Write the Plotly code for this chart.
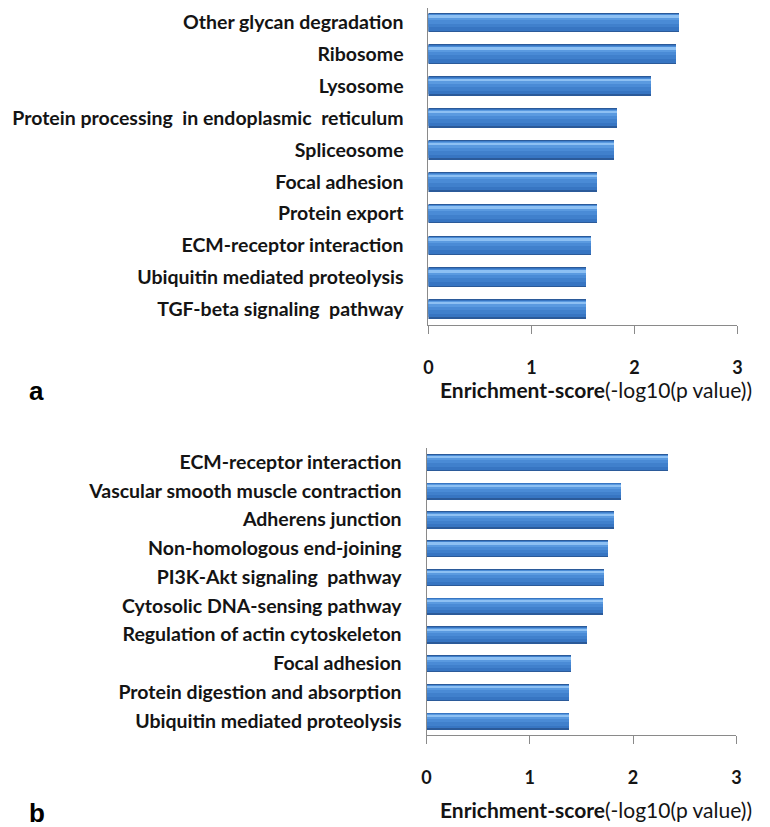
import plotly.graph_objects as go

cats_a = ["Other glycan degradation", "Ribosome", "Lysosome",
          "Protein processing  in endoplasmic  reticulum", "Spliceosome",
          "Focal adhesion", "Protein export", "ECM-receptor interaction",
          "Ubiquitin mediated proteolysis", "TGF-beta signaling  pathway"]
vals_a = [2.44, 2.41, 2.17, 1.84, 1.81, 1.64, 1.64, 1.58, 1.53, 1.53]

cats_b = ["ECM-receptor interaction", "Vascular smooth muscle contraction",
          "Adherens junction", "Non-homologous end-joining",
          "PI3K-Akt signaling  pathway", "Cytosolic DNA-sensing pathway",
          "Regulation of actin cytoskeleton", "Focal adhesion",
          "Protein digestion and absorption", "Ubiquitin mediated proteolysis"]
vals_b = [2.33, 1.88, 1.81, 1.75, 1.71, 1.70, 1.55, 1.39, 1.37, 1.37]

ticks_x = [0, 1, 2, 3]
panel_labels = ["a", "b"]
axis_title = "<b>Enrichment-score</b>(-log10(p value))"

FONT = "Lato"
TXT = "#141414"
GRID = "#8a8a8a"

# nested bands (fraction of bar width, from bottom to top) to fake the 3D shading
bands = [(0.00, 1.00, "#2b5a99"),
         (0.08, 0.95, "#3775c2"),
         (0.25, 0.93, "#4080cc"),
         (0.45, 0.91, "#4a8bd6"),
         (0.62, 0.89, "#5a9ae0"),
         (0.74, 0.86, "#8dc0f3")]

fig = go.Figure()

def add_panel(cats, vals, xa, ya, w):
    cr = cats[::-1]
    vr = vals[::-1]
    for lo, hi, col in bands:
        fig.add_trace(go.Bar(
            y=cr, x=vr, orientation="h",
            width=w * (hi - lo), offset=-w / 2 + w * lo,
            marker=dict(color=col, line=dict(width=0)),
            xaxis=xa, yaxis=ya, hoverinfo="skip", showlegend=False))

add_panel(cats_a, vals_a, "x", "y", 0.62)
add_panel(cats_b, vals_b, "x2", "y2", 0.60)

OFF = 8  # page body margin
W, H = 770 - OFF, 827 - OFF

def px(v):
    return (v - OFF) / W

def py(v):
    return min(1.0, max(0.0, 1 - (v - OFF) / H))

def xax(x0, x1):
    return dict(domain=[px(x0), px(x1)], range=[0, 3], tickvals=ticks_x,
                showline=True, linecolor=GRID, linewidth=1,
                ticks="outside", ticklen=8, tickcolor=GRID, tickwidth=1,
                showgrid=False, zeroline=False, fixedrange=True,
                tickfont=dict(family=FONT, size=18, color=TXT, weight="bold"),
                ticklabelstandoff=18)

def yax(top, bot, cats, anchor, n):
    # keep the band spacing of the reference even if the top is clipped
    band = (bot - top) / n
    top_c = max(top, OFF)
    hi = (n - 0.5) - (top_c - top) / band
    return dict(domain=[py(bot), py(top_c)], type="category",
                categoryorder="array", categoryarray=cats[::-1],
                range=[-0.5, hi],
                showline=True, linecolor=GRID, linewidth=1, ticks="",
                showgrid=False, zeroline=False, fixedrange=True, anchor=anchor,
                tickfont=dict(family=FONT, size=19.5, color=TXT, weight="bold"),
                ticklabelstandoff=20)

fig.update_layout(
    width=W, height=H, margin=dict(l=0, r=0, t=0, b=0),
    paper_bgcolor="white", plot_bgcolor="white",
    barmode="overlay", bargap=0,
    xaxis=dict(xax(429, 742), anchor="y"),
    yaxis=yax(6.6, 325, cats_a, "x", len(cats_a)),
    xaxis2=dict(xax(427, 741), anchor="y2"),
    yaxis2=yax(447.6, 735.2, cats_b, "x2", len(cats_b)),
)

# axis titles
for yc in (389, 809):
    fig.add_annotation(text=axis_title, xref="paper", yref="paper",
                       x=px(599), y=py(yc), xanchor="center", yanchor="middle",
                       showarrow=False, font=dict(family=FONT, size=21, color=TXT))

# panel letters
for lab, yc in zip(panel_labels, (391, 813)):
    fig.add_annotation(text="<b>%s</b>" % lab, xref="paper", yref="paper",
                       x=px(22), y=py(yc), xanchor="left", yanchor="middle",
                       showarrow=False,
                       font=dict(family="Liberation Sans", size=26, color="#000"))

fig.write_html("out.html")
